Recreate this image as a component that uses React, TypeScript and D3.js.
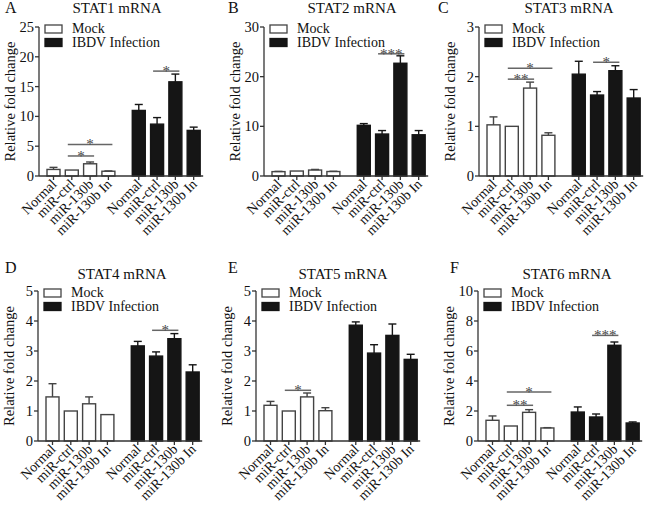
import React from "react";
import * as d3 from "d3";

const categories = ["Normal", "miR-ctrl", "miR-130b", "miR-130b In"];
const groups = ["Mock", "IBDV Infection"];
const panelLetters = ["A", "B", "C", "D", "E", "F"];
const panelTitles = ["STAT1 mRNA", "STAT2 mRNA", "STAT3 mRNA", "STAT4 mRNA", "STAT5 mRNA", "STAT6 mRNA"];
const yLabel = "Relative fold change";
const yMax = [25, 30, 3, 5, 5, 10];
const yTicks = [
  [0, 5, 10, 15, 20, 25],
  [0, 10, 20, 30],
  [0, 1, 2, 3],
  [0, 1, 2, 3, 4, 5],
  [0, 1, 2, 3, 4, 5],
  [0, 2, 4, 6, 8, 10],
];
const mockMeans = [
  [1.1, 1.0, 2.05, 0.8],
  [0.88, 1.0, 1.2, 0.9],
  [1.03, 1.0, 1.77, 0.82],
  [1.47, 1.0, 1.24, 0.88],
  [1.19, 1.0, 1.47, 1.01],
  [1.38, 1.0, 1.91, 0.87],
];
const mockErrs = [
  [0.35, 0, 0.3, 0.05],
  [0.05, 0, 0.12, 0.05],
  [0.16, 0, 0.12, 0.05],
  [0.44, 0, 0.23, 0],
  [0.13, 0, 0.13, 0.1],
  [0.29, 0, 0.18, 0.02],
];
const infMeans = [
  [11.0, 8.7, 15.8, 7.65],
  [10.2, 8.45, 22.7, 8.3],
  [2.05, 1.63, 2.12, 1.57],
  [3.17, 2.83, 3.41, 2.3],
  [3.86, 2.93, 3.52, 2.72],
  [1.93, 1.6, 6.38, 1.2],
];
const infErrs = [
  [1.0, 1.1, 1.3, 0.55],
  [0.35, 0.7, 1.5, 0.85],
  [0.26, 0.07, 0.1, 0.17],
  [0.15, 0.14, 0.17, 0.24],
  [0.11, 0.28, 0.38, 0.17],
  [0.34, 0.2, 0.22, 0.07],
];
// significance brackets: panel index, from bar, to bar (0..7), height (data units), label
const sigPanel = [0, 0, 0, 1, 2, 2, 2, 3, 4, 5, 5, 5];
const sigFrom = [1, 1, 5, 5, 1, 1, 5, 5, 1, 1, 1, 5];
const sigTo = [3, 2, 6, 6, 3, 2, 6, 6, 2, 3, 2, 6];
const sigY = [5.3, 3.36, 17.6, 24.6, 2.17, 1.95, 2.29, 3.69, 1.69, 3.27, 2.38, 7.04];
const sigLabel = ["*", "*", "*", "***", "*", "**", "*", "*", "*", "*", "**", "***"];

// layout
const panelX0 = [39, 264, 479, 38, 256, 478];
const rowY0 = [176, 441];
const rowTop = [27, 291];
const titleX = [117, 352, 569, 122, 343, 567];
const letterX = [5, 228, 438, 5, 228, 450];
const letterY = [13, 273];
const titleY = [13, 279];
const STEP = 18.3;
const BW = 13;
const FONT = "'Liberation Serif', 'Times New Roman', serif";
const TXT = "#111";

function Panel({ p }: { p: number }) {
  const row = p < 3 ? 0 : 1;
  const x0 = panelX0[p];
  const y0 = rowY0[row];
  const yt = rowTop[row];
  const y = d3.scaleLinear().domain([0, yMax[p]]).range([y0, yt]);
  const slot = (i: number) => i + (i >= 4 ? 0.66 : 0);
  const xs = d3.scaleLinear().domain([0, 1]).range([x0 + 8, x0 + 8 + STEP]);
  const bars = [...mockMeans[p], ...infMeans[p]].map((v, i) => ({
    v,
    e: i < 4 ? mockErrs[p][i] : infErrs[p][i - 4],
    mock: i < 4,
    label: categories[i % 4],
    x: xs(slot(i)),
  }));
  const xEnd = xs(slot(7)) + BW + 3;
  const cx = (i: number) => xs(slot(i)) + BW / 2;
  const sigs = sigPanel.map((sp, k) => ({ sp, k })).filter((d) => d.sp === p);
  return (
    <g fontFamily={FONT} fill={TXT}>
      <text x={letterX[p]} y={letterY[row]} fontSize={16}>{panelLetters[p]}</text>
      <text x={titleX[p]} y={titleY[row]} fontSize={15} textAnchor="middle">{panelTitles[p]}</text>
      <text
        transform={`translate(${x0 - 24},${(y0 + yt) / 2}) rotate(-90)`}
        fontSize={14.5}
        textAnchor="middle"
      >
        {yLabel}
      </text>
      {/* bars */}
      {bars.map((b, i) => (
        <g key={i}>
          <rect
            x={b.x}
            y={y(b.v)}
            width={BW}
            height={y0 - y(b.v)}
            fill={b.mock ? "#fff" : "#151515"}
            stroke={b.mock ? "#444" : "#151515"}
            strokeWidth={1.4}
          />
          {b.e > 0 && (
            <g stroke={b.mock ? "#444" : "#151515"} strokeWidth={1.4}>
              <line x1={b.x + BW / 2} x2={b.x + BW / 2} y1={y(b.v)} y2={y(b.v + b.e)} />
              <line x1={b.x + BW / 2 - 4} x2={b.x + BW / 2 + 4} y1={y(b.v + b.e)} y2={y(b.v + b.e)} />
            </g>
          )}
        </g>
      ))}
      {/* y axis */}
      <line x1={x0} x2={x0} y1={y0} y2={yt} stroke="#333" strokeWidth={1.3} />
      {yTicks[p].map((t) => (
        <g key={t}>
          <line x1={x0 - 4} x2={x0} y1={y(t)} y2={y(t)} stroke="#333" strokeWidth={1.3} />
          <text x={x0 - 5} y={y(t) + 5} fontSize={14.5} textAnchor="end">{t}</text>
        </g>
      ))}
      {/* x axis */}
      <line x1={x0} x2={xEnd} y1={y0} y2={y0} stroke="#333" strokeWidth={1.3} />
      {bars.map((b, i) => (
        <g key={"xt" + i}>
          <line x1={cx(i)} x2={cx(i)} y1={y0} y2={y0 + 4} stroke="#333" strokeWidth={1.3} />
          <text
            transform={`translate(${cx(i) + 4},${y0 + 9}) rotate(-45)`}
            fontSize={14}
            textAnchor="end"
          >
            {b.label}
          </text>
        </g>
      ))}
      {/* legend */}
      <rect x={x0 + 6} y={yt - 2} width={17} height={8} fill="#fff" stroke="#444" strokeWidth={1.3} />
      <text x={x0 + 33} y={yt + 6} fontSize={14}>{groups[0]}</text>
      <rect x={x0 + 6} y={yt + 11.5} width={17} height={8} fill="#151515" stroke="#151515" strokeWidth={1.3} />
      <text x={x0 + 33} y={yt + 19.5} fontSize={14}>{groups[1]}</text>
      {/* significance */}
      {sigs.map(({ k }) => {
        const x1 = cx(sigFrom[k]) - 4;
        const x2 = cx(sigTo[k]) + 4;
        const yy = y(sigY[k]);
        return (
          <g key={"s" + k}>
            <line x1={x1} x2={x2} y1={yy} y2={yy} stroke="#666" strokeWidth={1.5} />
            <text x={(x1 + x2) / 2} y={yy + 5} fontSize={15} textAnchor="middle" fill="#444">
              {sigLabel[k]}
            </text>
          </g>
        );
      })}
    </g>
  );
}

export default function App() {
  return (
    <svg
      width={650}
      height={507}
      style={{ position: "absolute", left: 0, top: 0, background: "#fff" }}
    >
      <rect width={650} height={507} fill="#fff" />
      {panelTitles.map((_, p) => (
        <Panel key={p} p={p} />
      ))}
    </svg>
  );
}
